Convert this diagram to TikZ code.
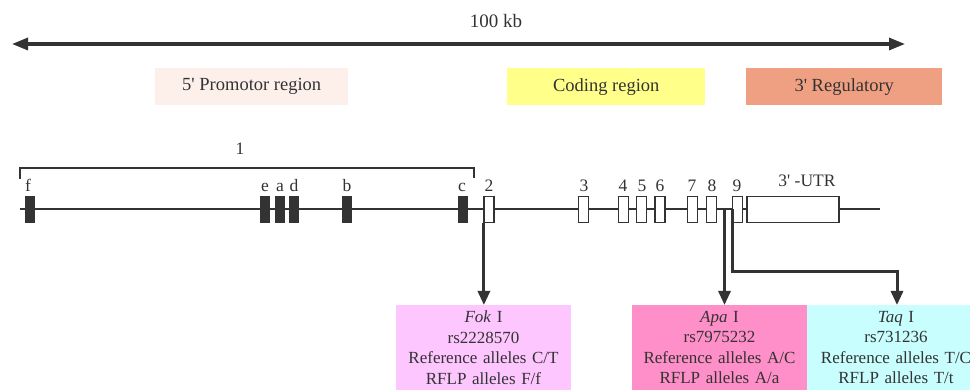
\documentclass[tikz,border=0pt]{standalone}
\usepackage{fontspec}
\setmainfont{Liberation Serif}
\usetikzlibrary{arrows.meta}
\definecolor{ink}{HTML}{333333}
\definecolor{promo}{HTML}{FDF0EB}
\definecolor{coding}{HTML}{FFFF8A}
\definecolor{regul}{HTML}{EFA082}
\definecolor{fokc}{HTML}{FEC6FE}
\definecolor{apac}{HTML}{FF8FC8}
\definecolor{taqc}{HTML}{C8FEFE}
\newcommand{\pq}{\textquotesingle}
\tikzset{
  txt/.style={text=ink, font=\fontsize{18.5}{22}\selectfont, inner sep=0pt},
  region/.style={txt, minimum height=37pt, anchor=north west},
  bex/.style={fill=ink, draw=ink, line width=0.8pt, minimum width=9pt, minimum height=26pt, inner sep=0pt},
  wex/.style={fill=white, draw=ink, line width=1.2pt, minimum width=10pt, minimum height=26pt, inner sep=0pt},
  lab/.style={txt, anchor=base, font=\fontsize{17.5}{20}\selectfont},
  info/.style={text=ink, font=\fontsize{17}{20.5}\selectfont, anchor=north, align=center, inner xsep=0pt, inner ysep=6pt},
  arr/.style={draw=ink, line width=3pt, -{Triangle[width=12pt,length=14pt]}},
}
\begin{document}
\begin{tikzpicture}[x=1pt,y=-1pt]
\useasboundingbox (0,0) rectangle (970,390);
\clip (0,0) rectangle (970,390);
% scale arrow
\coordinate (sl) at (12,44);
\coordinate (sr) at (905,44);
\draw[draw=ink, line width=3.2pt, {Triangle[width=12pt,length=16pt]}-{Triangle[width=12pt,length=16pt]}] (sl) -- (sr);
\node[txt, anchor=base, font=\fontsize{19}{22}\selectfont] (kb) at (496,28) {100 kb};
% regions
\node[region, fill=promo, minimum width=193pt] (pr) at (155,68) {5\pq\ Promotor region};
\node[region, fill=coding, minimum width=198pt] (cr) at (507,68) {Coding region};
\node[region, fill=regul, minimum width=196pt] (rr) at (746,68) {3\pq\ Regulatory};
% bracket for exon 1
\coordinate (b1) at (20,179);
\coordinate (b2) at (20,168);
\coordinate (b3) at (474,168);
\coordinate (b4) at (474,178);
\draw[draw=ink, line width=2.2pt] (b1) -- (b2) -- (b3) -- (b4);
\node[lab] (one) at (240,155) {1};
% gene line
\coordinate (gl) at (20,209);
\coordinate (gr) at (880,209);
\draw[draw=ink, line width=2.7pt] (gl) -- (gr);
% black exons (exon 1 variants)
\node[bex] (f) at (29.5,209.5) {};
\node[bex] (e) at (265,209.5) {};
\node[bex] (a) at (280,209.5) {};
\node[bex] (d) at (294,209.5) {};
\node[bex] (b) at (347,209.5) {};
\node[bex] (c) at (462.5,209.5) {};
\node[lab] at (28,192) {f};
\node[lab] at (265,192) {e};
\node[lab] at (280,192) {a};
\node[lab] at (294,192) {d};
\node[lab] at (347,192) {b};
\node[lab] at (462,192) {c};
% white exons
\node[wex] (x2) at (489,209.5) {};
\node[wex] (x3) at (583.5,209.5) {};
\node[wex] (x4) at (623.5,209.5) {};
\node[wex] (x5) at (641.5,209.5) {};
\node[wex] (x6) at (660,209.5) {};
\node[wex] (x7) at (692.5,209.5) {};
\node[wex] (x8) at (711.5,209.5) {};
\node[wex] (x9) at (737.5,209.5) {};
\node[wex, minimum width=92pt] (utr) at (793,209.5) {};
\node[lab] at (489,192) {2};
\node[lab] at (584,192) {3};
\node[lab] at (623,192) {4};
\node[lab] at (642,192) {5};
\node[lab] at (660,192) {6};
\node[lab] at (692,192) {7};
\node[lab] at (712,192) {8};
\node[lab] at (737,192) {9};
\node[lab] at (807,187) {3\pq\ -UTR};
% SNP boxes
\fill[fokc] (396,305) rectangle (571,390);
\fill[apac] (632,305) rectangle (807,390);
\fill[taqc] (807,305) rectangle (970,390);
\node[info, fill=fokc, text width=175pt] (fok) at (483.5,305)
  {\textit{Fok} I\\rs2228570\\Reference alleles C/T\\RFLP alleles F/f};
\node[info, fill=apac, text width=175pt] (apa) at (719.5,305)
  {\textit{Apa} I\\rs7975232\\Reference alleles A/C\\RFLP alleles A/a};
\node[info, fill=taqc, text width=178pt] (taq) at (896,305)
  {\textit{Taq} I\\rs731236\\Reference alleles T/C\\RFLP alleles T/t};
% arrows
\coordinate (apa0) at (724.5,209);
\coordinate (taq0) at (732.5,209);
\coordinate (taq1) at (732.5,272);
\coordinate (taq2) at (897,272);
\draw[arr] (x2.south west) ++(0.5,0) coordinate (fok0) -- (fok0 |- fok.north);
\draw[arr] (apa0) -- (apa0 |- apa.north);
\draw[arr] (taq0) -- (taq1) -- (taq2) -- (taq2 |- taq.north);
\end{tikzpicture}
\end{document}
